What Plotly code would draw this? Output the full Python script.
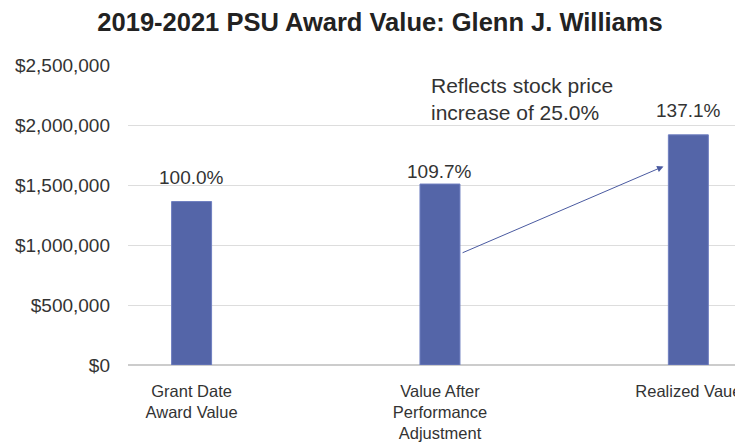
import plotly.graph_objects as go

categories = ["Grant Date<br>Award Value", "Value After<br>Performance<br>Adjustment", "Realized Vaue"]
values = [1362000, 1508000, 1918000]
pct_labels = ["100.0%", "109.7%", "137.1%"]
y_ticks = [0, 500000, 1000000, 1500000, 2000000, 2500000]
y_tick_text = ["$0", "$500,000", "$1,000,000", "$1,500,000", "$2,000,000", "$2,500,000"]
note_lines = ["Reflects stock price", "increase of 25.0%"]
arrow_from = (1.085, 930000)
arrow_to = (1.90, 1655000)

BAR = "#5465A8"
FONT = "Liberation Sans, Arial, Helvetica, sans-serif"
label_shifts = [12, 0, 12]

# page has an 8px body margin; size the figure to fit the visible window
OFF = 8
W, H = 743 - OFF, 443 - OFF
ml, mr, mt, mb = 128 - OFF, 0, 65 - OFF, 78
pw, ph = W - ml - mr, H - mt - mb

fig = go.Figure()
fig.add_trace(go.Bar(
    x=[0, 1, 2], y=values, width=0.161,
    marker=dict(color=BAR, line=dict(color="#6f7fc0", width=1)),
    hoverinfo="skip",
))

annotations = []
for i, (v, t) in enumerate(zip(values, pct_labels)):
    annotations.append(dict(x=i, y=v, xref="x", yref="y", text=t, showarrow=False,
                            yanchor="bottom", yshift=label_shifts[i],
                            font=dict(size=19, color="#333333", family=FONT)))
annotations.append(dict(x=arrow_to[0], y=arrow_to[1], xref="x", yref="y",
                        ax=arrow_from[0], ay=arrow_from[1], axref="x", ayref="y",
                        showarrow=True, arrowhead=2, arrowsize=1.3, arrowwidth=1,
                        arrowcolor="#4a5aa0", text=""))
for j, line in enumerate(note_lines):
    px_x = 429 - OFF
    px_y = 85 + 27 * j - OFF
    annotations.append(dict(x=(px_x - ml) / pw, y=1 - (px_y - mt) / ph,
                            xref="paper", yref="paper",
                            text=line, showarrow=False, xanchor="left", yanchor="middle",
                            font=dict(size=21, color="#333333", family=FONT)))

fig.update_layout(
    width=W, height=H,
    margin=dict(l=ml, r=mr, t=mt, b=mb),
    paper_bgcolor="white", plot_bgcolor="white",
    showlegend=False,
    title=dict(text="<b>2019-2021 PSU Award Value: Glenn J. Williams</b>",
               x=(380 - OFF) / W, xanchor="center", y=1 - (22 - OFF) / H, yanchor="middle",
               font=dict(size=25.5, color="#222222", family=FONT)),
    font=dict(family=FONT, color="#333333"),
    annotations=annotations,
    xaxis=dict(range=[-0.256, 2.22], tickvals=[0, 1, 2], ticktext=categories,
               showgrid=False, zeroline=False, showline=False,
               ticks="", ticklabelstandoff=14,
               tickfont=dict(size=16.5, color="#333333", family=FONT)),
    yaxis=dict(range=[0, 2500000], tickvals=y_ticks, ticktext=y_tick_text,
               showgrid=True, gridcolor="#dddddd", gridwidth=1,
               zeroline=True, zerolinecolor="#cccccc", showline=False,
               ticks="", ticklabelstandoff=17,
               tickfont=dict(size=19, color="#333333", family=FONT)),
)

fig.write_html("out.html")
